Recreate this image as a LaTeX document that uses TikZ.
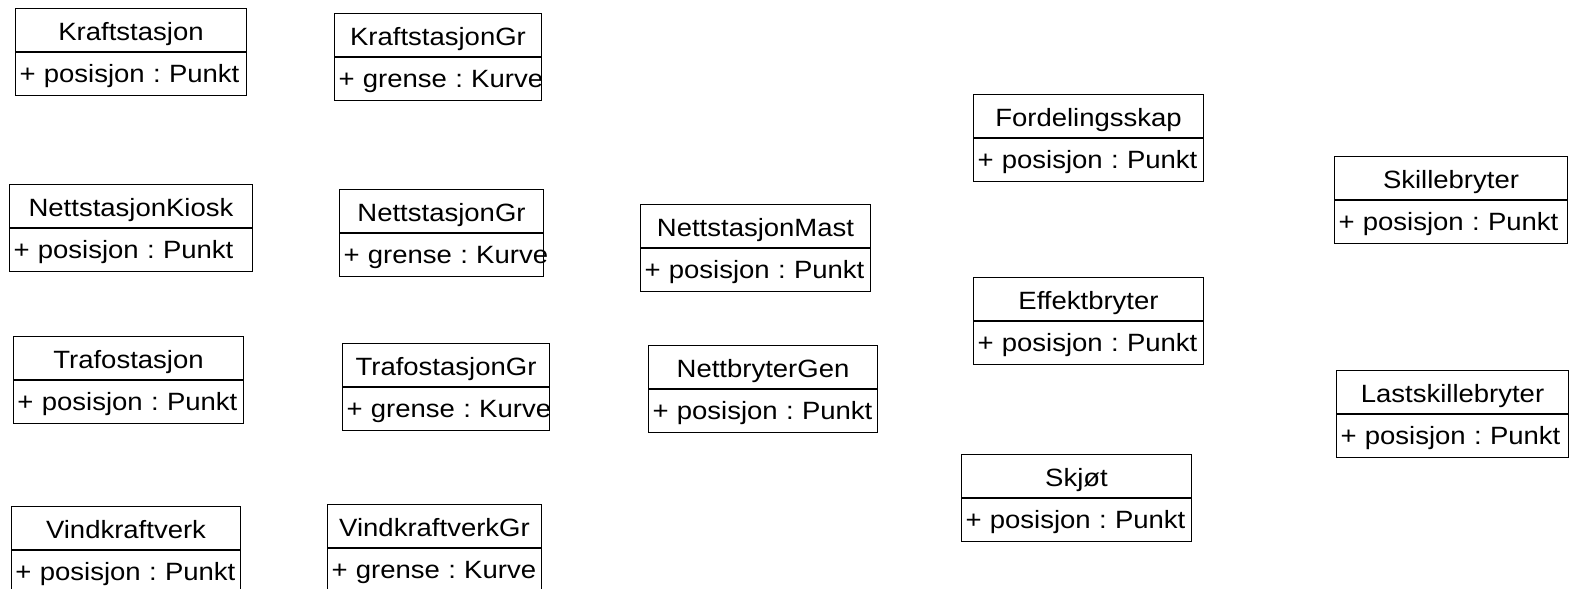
\documentclass[tikz,border=0pt]{standalone}
\usepackage{fontspec}
\setmainfont{Liberation Sans}[FakeStretch=1.1]
\usetikzlibrary{positioning}

\begin{document}
\frenchspacing
\begin{tikzpicture}[x=0.5pt,y=-0.5pt,line width=0.5pt,
  classbox/.style={draw,anchor=north west,minimum height=21.6pt,inner xsep=2pt,inner ysep=0pt,text height=10pt,text depth=0pt,align=center,font=\fontsize{12.5}{14}\selectfont},
  attrbox/.style={draw,minimum height=21.4pt,inner xsep=2pt,inner ysep=0pt,text height=9.5pt,text depth=1.5pt,align=left,font=\fontsize{12.5}{14}\selectfont}]
\useasboundingbox (0,0) rectangle (1570,589);

\node[classbox,text width=111.5pt] (kraft) at (15,8) {Kraftstasjon};
\node[attrbox,text width=111.5pt,below=0pt of kraft] (kraftA) {\mbox{+ posisjon : Punkt}};
\node[classbox,text width=99.5pt] (kraftgr) at (334,13) {KraftstasjonGr};
\node[attrbox,text width=99.5pt,below=0pt of kraftgr] (kraftgrA) {\mbox{+ grense : Kurve}};

\node[classbox,text width=117.5pt] (kiosk) at (9,184) {NettstasjonKiosk};
\node[attrbox,text width=117.5pt,below=0pt of kiosk] (kioskA) {\mbox{+ posisjon : Punkt}};
\node[classbox,text width=98pt] (nettgr) at (339,189) {NettstasjonGr};
\node[attrbox,text width=98pt,below=0pt of nettgr] (nettgrA) {\mbox{+ grense : Kurve}};

\node[classbox,text width=111pt] (trafo) at (13,336) {Trafostasjon};
\node[attrbox,text width=111pt,below=0pt of trafo] (trafoA) {\mbox{+ posisjon : Punkt}};
\node[classbox,text width=99.5pt] (trafogr) at (342,343) {TrafostasjonGr};
\node[attrbox,text width=99.5pt,below=0pt of trafogr] (trafogrA) {\mbox{+ grense : Kurve}};

\node[classbox,text width=110.5pt] (vind) at (11,506) {Vindkraftverk};
\node[attrbox,text width=110.5pt,below=0pt of vind] (vindA) {\mbox{+ posisjon : Punkt}};
\node[classbox,text width=103pt] (vindgr) at (327,504) {VindkraftverkGr};
\node[attrbox,text width=103pt,below=0pt of vindgr] (vindgrA) {\mbox{+ grense : Kurve}};

\node[classbox,text width=111pt] (mast) at (640,204) {NettstasjonMast};
\node[attrbox,text width=111pt,below=0pt of mast] (mastA) {\mbox{+ posisjon : Punkt}};
\node[classbox,text width=110.5pt] (bryter) at (648,345) {NettbryterGen};
\node[attrbox,text width=110.5pt,below=0pt of bryter] (bryterA) {\mbox{+ posisjon : Punkt}};

\node[classbox,text width=111pt] (fordeling) at (973,94) {Fordelingsskap};
\node[attrbox,text width=111pt,below=0pt of fordeling] (fordelingA) {\mbox{+ posisjon : Punkt}};
\node[classbox,text width=111pt] (effekt) at (973,277) {Effektbryter};
\node[attrbox,text width=111pt,below=0pt of effekt] (effektA) {\mbox{+ posisjon : Punkt}};
\node[classbox,text width=111pt] (skjot) at (961,454) {Skjøt};
\node[attrbox,text width=111pt,below=0pt of skjot] (skjotA) {\mbox{+ posisjon : Punkt}};

\node[classbox,text width=112.5pt] (skille) at (1334,156) {Skillebryter};
\node[attrbox,text width=112.5pt,below=0pt of skille] (skilleA) {\mbox{+ posisjon : Punkt}};
\node[classbox,text width=112pt] (last) at (1336,370) {Lastskillebryter};
\node[attrbox,text width=112pt,below=0pt of last] (lastA) {\mbox{+ posisjon : Punkt}};
\end{tikzpicture}
\end{document}
